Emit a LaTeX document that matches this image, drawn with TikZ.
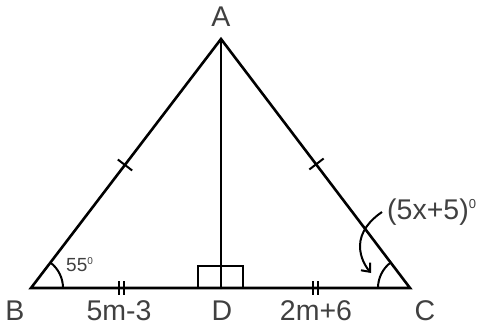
\documentclass[tikz,border=0pt]{standalone}
\usepackage{fontspec}
\setmainfont{Liberation Sans}
\usetikzlibrary{arrows.meta,calc}
\definecolor{txt}{gray}{0.25}
\tikzset{
  seg/.style={line width=2.6pt, line cap=round, line join=miter},
  thin/.style={line width=2pt},
  lbl/.style={text=txt, font=\fontsize{28.5}{28.5}\selectfont, inner sep=0pt},
  sml/.style={text=txt, font=\fontsize{19}{19}\selectfont, inner sep=0pt}
}
\begin{document}
\begin{tikzpicture}[x=1pt,y=-1pt]
\useasboundingbox (0,0) rectangle (488,335);
\coordinate (A) at (221,39);
\coordinate (B) at (31,288);
\coordinate (C) at (410,288);
\coordinate (D) at (221,288);
% triangle
\draw[seg] (B) -- (A) -- (C) -- cycle;
\draw[seg] (A) -- (D);
% right angle boxes
\draw[thin] (198,288) -- (198,266) -- (243,266) -- (243,288);
% angle arcs
\draw[thin] ($(B)+(32,0)$) arc[start angle=0, end angle=-52.6, radius=32];
\draw[thin] ($(C)+(-32,0)$) arc[start angle=180, end angle=232.8, radius=32];
% ticks on AB and AC
\draw[thin] (125,165) ++(142.6:-9pt) -- ++(142.6:18pt);
\draw[thin] (316.5,164) ++(37.4:-9pt) -- ++(37.4:18pt);
% double ticks
\draw[thin] (119,281) -- (119,295);
\draw[thin] (124,281) -- (124,295);
\draw[thin] (313,281) -- (313,295);
\draw[thin] (318,281) -- (318,295);
% curved arrow
\draw[thin, -{Straight Barb[length=7pt,width=12pt]}] (382,212) .. controls (370,220) and (360,232) .. (360,246) .. controls (360,258) and (366,267) .. (371,273);
% labels
\node[lbl] (lA) at (221,17) {A};
\node[lbl] (lB) at (15,311) {B};
\node[lbl] (lC) at (425,311) {C};
\node[lbl] (lD) at (222,311) {D};
\node[lbl] (l1) at (119,311) {5m-3};
\node[lbl] (l2) at (316,311) {2m+6};
\node[sml, anchor=west] (l55) at (66,265) {55\raisebox{7pt}{\fontsize{10}{10}\selectfont 0}};
\node[lbl, anchor=west] (lx) at (387,212) {(5x+5)\raisebox{11pt}{\fontsize{13}{13}\selectfont 0}};
\end{tikzpicture}
\end{document}
